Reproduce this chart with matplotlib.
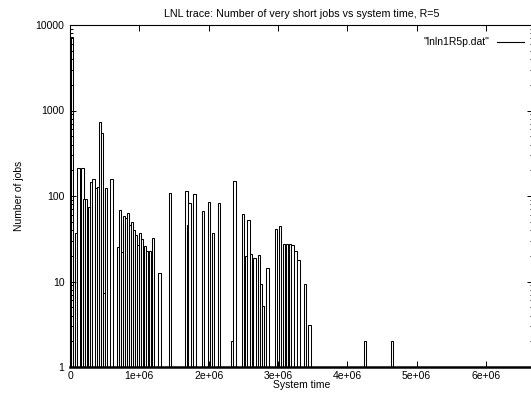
import numpy as np
import matplotlib
matplotlib.use('Agg')
import matplotlib.pyplot as plt
from matplotlib.lines import Line2D
from matplotlib.ticker import LogLocator, FixedLocator, FixedFormatter

plt.rcParams['font.family'] = ['Liberation Sans', 'DejaVu Sans']

# system time of each bin and number of very short jobs in it
times = [25000, 87000, 125000, 180000, 202000, 231000, 274000, 303000, 339000,
         375000, 404000, 433000, 462000, 491000, 519000, 599000,
         693000, 722000, 750000, 779000, 808000, 837000, 866000, 895000,
         924000, 952000, 981000, 1010000, 1039000, 1082000, 1111000,
         1154000, 1197000, 1291000,
         1443000, 1681000, 1703000, 1724000, 1797000, 1919000, 2006000,
         2063000, 2150000, 2345000, 2374000, 2496000, 2547000, 2576000,
         2612000, 2662000, 2727000, 2760000, 2785000, 2850000, 2973000,
         3030000, 3088000, 3131000, 3175000, 3211000, 3254000, 3297000,
         3391000, 3456000, 4257000, 4646000]
jobs = [7200, 37, 214, 214, 92, 92, 74, 147, 157,
        125, 128, 740, 541, 7.3, 125, 157,
        25, 69, 22, 59, 56, 64, 46, 49,
        40, 35, 27, 37, 31, 26, 23,
        23, 32, 12.5,
        109, 115, 46, 82, 106, 67, 84,
        37, 83, 2, 151, 62, 20, 53,
        21, 18.7, 20.6, 9.3, 5.2, 14.4, 41,
        45, 27.5, 27.5, 27.5, 26.5, 22.7, 17.7,
        9.3, 3.1, 2, 2]

x_ticks = [0, 1e6, 2e6, 3e6, 4e6, 5e6, 6e6]
x_labels = ['0', '1e+06', '2e+06', '3e+06', '4e+06', '5e+06', '6e+06']
y_ticks = [1, 10, 100, 1000, 10000]
y_labels = ['1', '10', '100', '1000', '10000']

W, H = 531, 393
fig = plt.figure(figsize=(W / 100, H / 100), dpi=100)
left, right, top, bottom = 70, 533, 25, 367
ax = fig.add_axes([left / W, (H - bottom) / H, (right - left) / W, (bottom - top) / H])

ax.bar(times, np.array(jobs) - 1, bottom=1, width=34000, align='center',
       facecolor='white', edgecolor='black', linewidth=0.75)

ax.set_yscale('log')
ax.set_xlim(0, (right - left) / 69.3 * 1e6)
ax.set_ylim(1, 10000)

ax.xaxis.set_major_locator(FixedLocator(x_ticks))
ax.xaxis.set_major_formatter(FixedFormatter(x_labels))
ax.yaxis.set_major_locator(FixedLocator(y_ticks))
ax.yaxis.set_major_formatter(FixedFormatter(y_labels))
ax.yaxis.set_minor_locator(LogLocator(base=10, subs=np.arange(2, 10)))
ax.yaxis.set_minor_formatter(plt.NullFormatter())

ax.tick_params(which='both', direction='in', top=True, right=True,
               labelsize=7.5, pad=4, width=0.7)
ax.tick_params(which='major', length=4)
ax.tick_params(which='minor', length=2)
ax.tick_params(axis='x', pad=3)

for s in ax.spines.values():
    s.set_linewidth(0.8)
ax.spines['bottom'].set_linewidth(1.8)

ax.set_title('LNL trace: Number of very short jobs vs system time, R=5',
             fontsize=7.7, pad=6)
ax.set_xlabel('System time', fontsize=7.5, labelpad=-1)
ax.set_ylabel('Number of jobs', fontsize=7.5, labelpad=8)

handle = Line2D([], [], color='black', linewidth=0.8)
ax.legend([handle], ['"lnln1R5p.dat"'], loc='upper right', frameon=False,
          markerfirst=False, fontsize=7.5, handlelength=2.6, handletextpad=0.8,
          bbox_to_anchor=(0.997, 0.985), borderaxespad=0.3)

fig.savefig('out.png', dpi=100)
